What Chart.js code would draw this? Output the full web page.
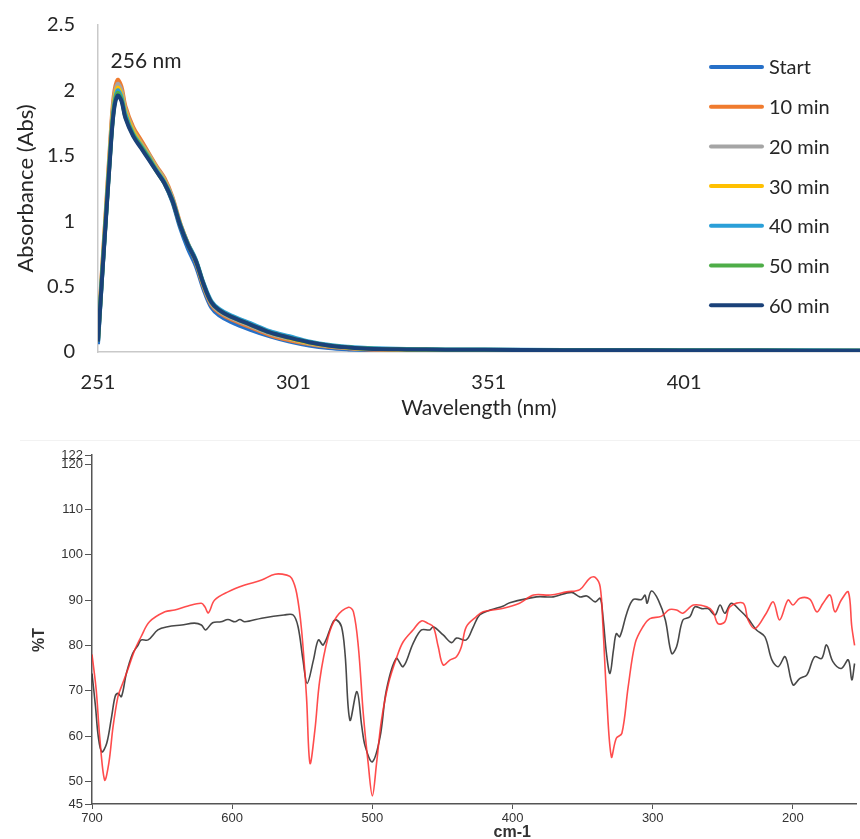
<!DOCTYPE html>
<html>
<head>
<meta charset="utf-8">
<script src="https://cdn.jsdelivr.net/npm/chart.js@4.4.1/dist/chart.umd.min.js"></script>
<style>
  body { margin: 0; background: #fff; width: 860px; height: 839px; position: relative; overflow: hidden; }
  #uvChart { position: absolute; left: 0; top: 0; }
  #irChart { position: absolute; left: 0; top: 425px; }
  .sep { position: absolute; left: 20px; top: 440px; width: 840px; border-top: 1px solid #f2f2f2; }
</style>
</head>
<body>
<canvas id="uvChart" width="860" height="425"></canvas>
<div class="sep"></div>
<canvas id="irChart" width="860" height="414"></canvas>
<script>
// --- UV-Vis scans, one every 10 minutes ---
const wavelengths = [251, 252, 253, 254, 255, 256, 257, 258, 260, 262, 264, 266, 268, 270, 272, 274, 276, 278, 280, 282, 285, 290, 295, 300, 305, 310, 315, 320, 330, 340, 360, 380, 400, 420, 446];
const absStart = [0.06, 0.55, 1.02, 1.47, 1.86, 2.00, 1.95, 1.81, 1.67, 1.57, 1.48, 1.39, 1.29, 1.15, 0.95, 0.79, 0.66, 0.48, 0.34, 0.28, 0.23, 0.17, 0.12, 0.08, 0.05, 0.03, 0.02, 0.015, 0.012, 0.011, 0.010, 0.009, 0.009, 0.008, 0.008];
const abs10 = [0.12, 0.62, 1.08, 1.55, 1.95, 2.08, 2.03, 1.88, 1.72, 1.62, 1.52, 1.42, 1.33, 1.19, 0.99, 0.83, 0.69, 0.50, 0.36, 0.30, 0.25, 0.19, 0.13, 0.09, 0.06, 0.04, 0.028, 0.02, 0.015, 0.013, 0.012, 0.011, 0.010, 0.010, 0.009];
const abs20 = [0.11, 0.60, 1.06, 1.52, 1.92, 2.05, 2.00, 1.86, 1.70, 1.60, 1.51, 1.41, 1.32, 1.18, 0.98, 0.83, 0.70, 0.51, 0.37, 0.31, 0.26, 0.20, 0.14, 0.10, 0.065, 0.045, 0.03, 0.022, 0.017, 0.015, 0.013, 0.012, 0.011, 0.010, 0.010];
const abs30 = [0.10, 0.58, 1.04, 1.50, 1.89, 2.02, 1.97, 1.84, 1.69, 1.59, 1.50, 1.40, 1.31, 1.17, 0.98, 0.83, 0.70, 0.52, 0.38, 0.32, 0.27, 0.21, 0.15, 0.105, 0.07, 0.048, 0.033, 0.024, 0.018, 0.016, 0.014, 0.013, 0.012, 0.011, 0.010];
const abs40 = [0.09, 0.57, 1.02, 1.48, 1.86, 2.00, 1.95, 1.82, 1.67, 1.58, 1.49, 1.39, 1.30, 1.17, 0.98, 0.83, 0.71, 0.53, 0.39, 0.33, 0.28, 0.22, 0.16, 0.12, 0.08, 0.055, 0.04, 0.03, 0.022, 0.02, 0.017, 0.015, 0.014, 0.013, 0.012];
const abs50 = [0.08, 0.56, 1.01, 1.46, 1.84, 1.98, 1.93, 1.80, 1.66, 1.57, 1.48, 1.38, 1.29, 1.16, 0.97, 0.82, 0.70, 0.52, 0.38, 0.32, 0.27, 0.21, 0.15, 0.11, 0.075, 0.05, 0.036, 0.026, 0.02, 0.018, 0.015, 0.013, 0.012, 0.011, 0.010];
const abs60 = [0.08, 0.55, 1.00, 1.45, 1.83, 1.96, 1.92, 1.79, 1.65, 1.56, 1.47, 1.38, 1.29, 1.16, 0.97, 0.82, 0.70, 0.52, 0.38, 0.32, 0.27, 0.21, 0.15, 0.11, 0.075, 0.05, 0.035, 0.025, 0.02, 0.018, 0.015, 0.013, 0.012, 0.011, 0.010];
const uvLabels = ["Start", "10 min", "20 min", "30 min", "40 min", "50 min", "60 min"];
const uvColors = ["#2670c8", "#f07b2e", "#a5a5a5", "#ffc000", "#2a9fd8", "#4ead48", "#1a4179"];
const uvTicksX = [251, 301, 351, 401];
const peakNm = 256;

// --- IR spectra, two samples ---
const irWnRed = [700, 697, 694.5, 691, 688, 685, 681.5, 679, 674.5, 669.5, 665, 659, 648, 641, 631.5, 622, 619.5, 617, 612.5, 603, 591, 579, 569.5, 561, 557.5, 554, 550.5, 547, 544.5, 541, 537.5, 531.5, 525.5, 517, 513.5, 510, 506.5, 503, 500, 497, 493.5, 488.5, 482.5, 478, 471, 465, 460, 456.5, 453, 449.5, 444.5, 440, 436.5, 433, 426, 421, 406.5, 395, 385, 373, 361.5, 352, 345, 341, 337.5, 335.5, 333, 329.5, 326, 322, 317.5, 312.5, 307, 302, 294, 288, 283, 278.5, 271, 261.5, 257, 253.5, 248.5, 245, 235.5, 232, 227, 219, 214, 209.5, 203.5, 200, 195, 188, 183, 178.5, 173.5, 170, 165.5, 160.5, 158, 156];
const irTRed = [78.0, 70.2, 59.8, 50.3, 54.0, 62.0, 68.7, 70.9, 74.6, 79.0, 81.9, 85.2, 87.4, 87.8, 88.7, 89.3, 88.5, 87.2, 90.0, 91.8, 93.3, 94.4, 95.7, 95.5, 94.8, 91.5, 83.4, 68.7, 54.0, 61.3, 72.4, 81.9, 86.3, 88.4, 87.4, 79.7, 65.0, 54.0, 46.8, 54.0, 63.5, 71.6, 77.5, 80.8, 83.4, 85.4, 84.8, 84.1, 79.7, 75.7, 76.8, 77.5, 79.7, 84.1, 86.3, 87.4, 88.2, 89.3, 91.1, 91.1, 91.8, 92.3, 94.8, 95.0, 92.9, 84.1, 69.4, 55.4, 59.5, 60.6, 70.9, 80.5, 84.1, 85.9, 86.4, 87.9, 87.8, 87.1, 88.9, 88.5, 87.4, 84.8, 85.2, 88.5, 89.3, 85.6, 83.7, 87.1, 89.6, 85.6, 90.0, 88.9, 90.4, 90.2, 87.4, 89.3, 91.1, 87.4, 90.0, 91.8, 84.1, 80.0];
const irWnBlack = [700, 697.5, 695.5, 693, 689.5, 686, 683.5, 681.5, 679, 675.5, 671, 667, 665, 660, 653, 646, 636, 627, 622, 619, 614, 608, 603, 598, 594.5, 591, 579, 563, 556.5, 553, 549.5, 546.5, 542, 538.5, 535, 528, 525.5, 522, 519.5, 516, 511, 507.5, 505, 500, 494.5, 490, 483, 478, 471, 465, 459, 456.5, 449.5, 443.5, 440, 433, 428, 423.5, 416, 406.5, 402, 383, 371, 358, 352, 347, 341, 337.5, 335.5, 333, 330.5, 328, 326, 323.5, 318.5, 314, 308, 305.5, 304, 301, 296, 291, 286.5, 283, 278.5, 273.5, 270, 265, 260.5, 255.5, 252, 248.5, 244, 238, 232, 226, 220, 215, 210.5, 205.5, 200, 195, 190, 184.5, 179.5, 176, 171.5, 165.5, 160.5, 158, 156];
const irTBlack = [73.8, 66.5, 59.8, 56.5, 58.4, 64.3, 68.7, 69.4, 68.7, 73.8, 78.2, 80.1, 81.2, 81.2, 83.4, 84.1, 84.5, 84.9, 84.5, 83.4, 85.0, 85.2, 85.7, 85.2, 85.7, 85.2, 86.0, 86.7, 86.7, 84.1, 76.8, 71.6, 76.8, 81.2, 80.1, 85.2, 85.6, 84.1, 78.2, 63.5, 69.8, 62.0, 57.6, 54.3, 59.8, 70.1, 77.1, 75.3, 80.4, 83.4, 83.4, 84.1, 82.3, 80.6, 81.6, 81.2, 84.1, 86.7, 87.8, 88.7, 89.4, 90.7, 90.7, 91.7, 90.7, 90.9, 89.6, 90.4, 86.3, 78.2, 73.8, 79.0, 82.6, 81.9, 87.1, 90.1, 90.1, 91.1, 89.3, 92.0, 90.0, 85.6, 78.2, 79.7, 85.6, 86.3, 88.5, 88.1, 88.1, 86.7, 88.9, 87.1, 89.3, 87.8, 85.9, 83.4, 81.9, 76.8, 75.3, 77.5, 71.3, 72.7, 73.5, 77.5, 77.1, 80.1, 76.4, 74.9, 76.8, 72.4, 76.0];
const irTicksX = [700, 600, 500, 400, 300, 200];
const irTicksY = [45, 50, 60, 70, 80, 90, 100, 110, 120, 122];

const uvFont = "Lato, 'Open Sans', sans-serif";
const irFont = "'Liberation Sans Narrow', 'Liberation Sans', Arial, sans-serif";
const textDark = "#262626";

// legend sits over the plot at the right, plus the peak caption
const uvOverlay = {
    id: "uvOverlay",
    afterDraw(chart) {
        const ctx = chart.ctx;
        ctx.save();
        ctx.font = "20px " + uvFont;
        ctx.textBaseline = "middle";
        ctx.fillStyle = textDark;
        chart.data.datasets.forEach((ds, i) => {
            const y = 67 + i * 39.7;
            ctx.strokeStyle = ds.borderColor;
            ctx.lineWidth = 4;
            ctx.lineCap = "round";
            ctx.beginPath();
            ctx.moveTo(711, y);
            ctx.lineTo(762, y);
            ctx.stroke();
            ctx.fillText(ds.label, 769, y + 1);
        });
        ctx.font = "21px " + uvFont;
        const px = chart.scales.x.getPixelForValue(peakNm) - 7;
        const py = chart.scales.y.getPixelForValue(2.22);
        ctx.fillText(peakNm + " nm", px, py);
        ctx.restore();
    }
};

const uvSeries = [absStart, abs10, abs20, abs30, abs40, abs50, abs60];

new Chart(document.getElementById("uvChart"), {
    type: "line",
    data: {
        datasets: uvSeries.map((vals, i) => ({
            label: uvLabels[i],
            data: wavelengths.map((w, k) => ({ x: w, y: vals[k] })),
            borderColor: uvColors[i],
            borderWidth: 4,
            pointRadius: 0,
            tension: 0.35,
            borderJoinStyle: "round",
            order: uvSeries.length - i
        }))
    },
    options: {
        responsive: false,
        animation: false,
        layout: { padding: { top: 25, right: 0, bottom: 0, left: 0 } },
        plugins: { legend: { display: false }, tooltip: { enabled: false } },
        scales: {
            x: {
                type: "linear",
                min: 251,
                max: 446,
                afterBuildTicks: s => { s.ticks = uvTicksX.map(v => ({ value: v })); },
                afterFit: s => { s.height = 73; },
                grid: { display: false },
                border: { color: "#c9c9c9", width: 1.5 },
                ticks: { padding: 11, autoSkip: false, maxRotation: 0, color: textDark, font: { family: uvFont, size: 20 } },
                title: { display: true, text: "Wavelength (nm)", color: textDark, font: { family: uvFont, size: 21 }, padding: { top: 0, bottom: 4 } }
            },
            y: {
                min: 0,
                max: 2.5,
                afterFit: s => { s.width = 98; },
                // invisible tick marks keep the labels clear of the axis
                grid: { display: true, drawOnChartArea: false, tickLength: 20, color: "rgba(0,0,0,0)" },
                border: { color: "#c9c9c9", width: 1.5 },
                ticks: { stepSize: 0.5, padding: 3, color: textDark, font: { family: uvFont, size: 20 }, callback: v => String(v) },
                title: { display: true, text: "Absorbance (Abs)", color: textDark, font: { family: uvFont, size: 22 }, padding: { top: 13, bottom: 0 } }
            }
        }
    },
    plugins: [uvOverlay]
});

// axis captions for the IR panel
const irCaptions = {
    id: "irCaptions",
    afterDraw(chart) {
        const { ctx, chartArea: a } = chart;
        ctx.save();
        ctx.fillStyle = "#333";
        ctx.font = "bold 16px 'Liberation Sans', Arial, sans-serif";
        ctx.textAlign = "center";
        ctx.textBaseline = "middle";
        ctx.fillText("cm-1", a.left + (a.right - a.left) * 0.55, a.bottom + 29);
        ctx.translate(a.left - 52, a.top + (a.bottom - a.top) * 0.53);
        ctx.rotate(-Math.PI / 2);
        ctx.fillText("%T", 0, 0);
        ctx.restore();
    }
};

const irTick = { padding: 2, autoSkip: false, maxRotation: 0, color: "#333", font: { family: irFont, size: 13 } };

new Chart(document.getElementById("irChart"), {
    type: "line",
    data: {
        datasets: [
            {
                label: "Spectrum 1",
                data: irWnRed.map((w, k) => ({ x: w, y: irTRed[k] })),
                borderColor: "rgba(255, 45, 45, 0.85)",
                borderWidth: 1.6,
                pointRadius: 0,
                tension: 0.35
            },
            {
                label: "Spectrum 2",
                data: irWnBlack.map((w, k) => ({ x: w, y: irTBlack[k] })),
                borderColor: "rgba(40, 40, 40, 0.85)",
                borderWidth: 1.6,
                pointRadius: 0,
                tension: 0.35
            }
        ]
    },
    options: {
        responsive: false,
        animation: false,
        layout: { padding: { top: 30, right: 4, bottom: 0, left: 0 } },
        plugins: { legend: { display: false }, tooltip: { enabled: false } },
        scales: {
            x: {
                type: "linear",
                reverse: true,
                min: 155,
                max: 700,
                afterBuildTicks: s => { s.ticks = irTicksX.map(v => ({ value: v })); },
                afterFit: s => { s.height = 35; },
                grid: { drawOnChartArea: false, tickLength: 5, color: "#555" },
                border: { color: "#555", width: 1.5 },
                ticks: irTick
            },
            y: {
                min: 45,
                max: 122,
                afterBuildTicks: s => { s.ticks = irTicksY.map(v => ({ value: v })); },
                afterFit: s => { s.width = 92; },
                grid: { drawOnChartArea: false, tickLength: 7, color: "#555" },
                border: { color: "#555", width: 1.5 },
                ticks: irTick
            }
        }
    },
    plugins: [irCaptions]
});
</script>
</body>
</html>
